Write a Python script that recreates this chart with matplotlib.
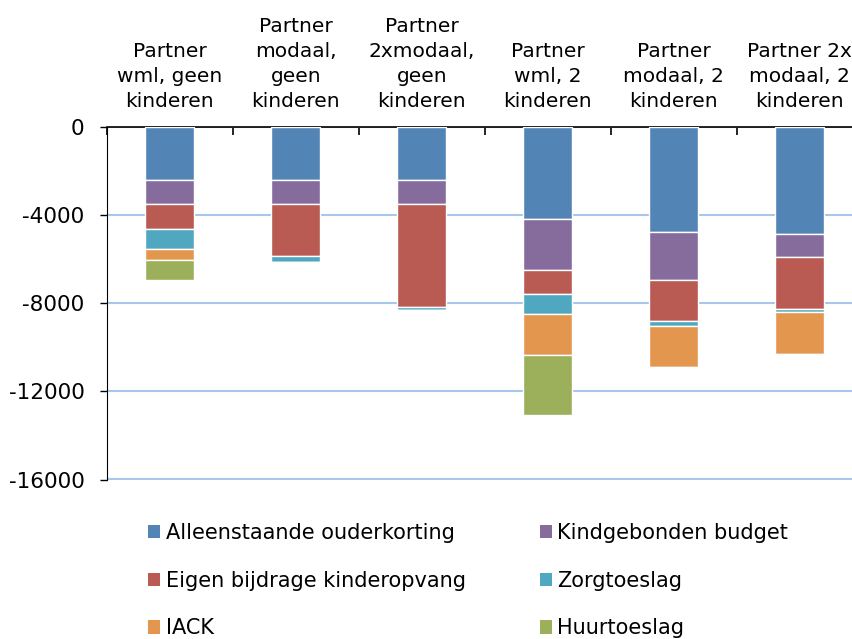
import matplotlib
matplotlib.use("Agg")
import matplotlib.pyplot as plt
from matplotlib.patches import Patch
import numpy as np

categories = [
    "Partner\nwml, geen\nkinderen",
    "Partner\nmodaal,\ngeen\nkinderen",
    "Partner\n2xmodaal,\ngeen\nkinderen",
    "Partner\nwml, 2\nkinderen",
    "Partner\nmodaal, 2\nkinderen",
    "Partner 2x\nmodaal, 2\nkinderen",
]
series_names = [
    "Alleenstaande ouderkorting",
    "Kindgebonden budget",
    "Eigen bijdrage kinderopvang",
    "Zorgtoeslag",
    "IACK",
    "Huurtoeslag",
]
alleenstaande = [-2420, -2420, -2420, -4190, -4790, -4850]
kindgebonden = [-1075, -1075, -1075, -2320, -2150, -1070]
eigen_bijdrage = [-1150, -2385, -4700, -1060, -1860, -2360]
zorgtoeslag = [-905, -245, -120, -935, -255, -120]
iack = [-515, 0, 0, -1860, -1860, -1905]
huurtoeslag = [-905, 0, 0, -2720, 0, 0]
yticks = [0, -4000, -8000, -12000, -16000]

series = [alleenstaande, kindgebonden, eigen_bijdrage, zorgtoeslag, iack, huurtoeslag]
colors = ["#5384B6", "#866C9C", "#B95A53", "#4FA8C0", "#E3964E", "#9CB05C"]

fig = plt.figure(figsize=(8.53, 6.39), dpi=100)
ax = fig.add_axes([106.7 / 853, 1 - 479.5 / 639, 756 / 853, (479.5 - 126.7) / 639])

x = np.arange(len(categories))
bottom = np.zeros(len(categories))
for vals, col, name in zip(series, colors, series_names):
    v = np.array(vals, dtype=float)
    ax.bar(x, v, 0.39, bottom=bottom, color=col, edgecolor="white", linewidth=1.0,
           label=name, zorder=3)
    bottom += v

ax.set_ylim(-16000, 0)
ax.set_xlim(-0.5, len(categories) - 0.5)
ax.set_yticks(yticks)
ax.set_yticklabels([str(t) for t in yticks], fontsize=15.5)
ax.tick_params(axis="y", direction="out", length=5, width=1, pad=11)
ax.yaxis.grid(True, color="#A9C6EB", linewidth=1.5, zorder=0)
ax.axhline(-16000, color="#A9C6EB", linewidth=3, zorder=1, clip_on=True)

ax.xaxis.tick_top()
ax.set_xticks(x)
ax.set_xticklabels(categories, fontsize=14.5, linespacing=1.42)
ax.tick_params(axis="x", which="major", length=0, pad=11)
ax.set_xticks(np.arange(-0.5, len(categories), 1.0), minor=True)
ax.tick_params(axis="x", which="minor", direction="in", length=6, width=1.2, top=True, bottom=False)

for s in ["right", "bottom"]:
    ax.spines[s].set_visible(False)
ax.spines["left"].set_color("black")
ax.spines["top"].set_color("black")
ax.spines["top"].set_linewidth(1.2)

# row-major legend order (matplotlib fills columns first)
order = [0, 2, 4, 1, 3, 5]
handles = [Patch(facecolor=colors[i], edgecolor="none") for i in order]
labels = [series_names[i] for i in order]
fig.legend(handles, labels, loc="upper left", bbox_to_anchor=(148 / 853, 1 - 523 / 639),
           ncol=2, frameon=False, fontsize=15, handlelength=0.6, handleheight=0.6,
           handletextpad=0.25, labelspacing=1.33, columnspacing=3.55,
           borderpad=0, borderaxespad=0)

fig.savefig("out.png", dpi=100)
